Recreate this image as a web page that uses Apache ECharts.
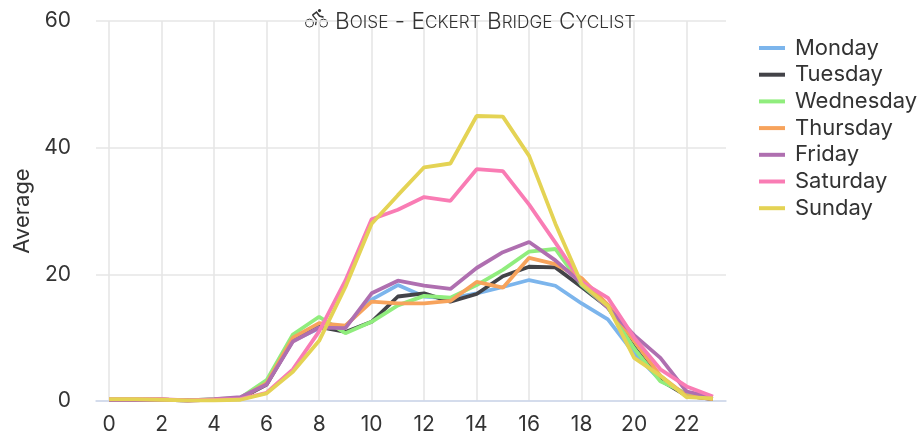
<!DOCTYPE html>
<html><head><meta charset="utf-8">
<style>html,body{margin:0;padding:0;background:#fff}#c{width:923px;height:436px}</style>
<script src="https://cdn.jsdelivr.net/npm/echarts@6/dist/echarts.min.js"></script>
</head><body><div id="c"></div>
<script>
const hours = ['0','1','2','3','4','5','6','7','8','9','10','11','12','13','14','15','16','17','18','19','20','21','22','23'];
const monday    = [0.2,0.2,0.2,0.1,0.2,0.5,2.8,9.5,11.5,11.8,16,18.3,16.5,16.2,17,18,19.1,18.2,15.4,12.9,7.5,3.3,1.0,0.3];
const tuesday   = [0.2,0.2,0.2,0.1,0.2,0.4,2.6,9.6,11.7,10.9,12.5,16.5,17,15.7,16.9,19.7,21.2,21.1,18,14.8,8.5,3.3,0.8,0.3];
const wednesday = [0.2,0.2,0.2,0.1,0.3,0.5,3.3,10.5,13.3,10.7,12.5,15.1,16.6,16.3,18.3,20.7,23.6,24,18.3,14.8,8.3,3.1,1.2,0.3];
const thursday  = [0.2,0.2,0.2,0.1,0.2,0.4,2.8,10,12.3,11.9,15.7,15.4,15.4,15.8,18.8,17.9,22.6,21.6,19.4,15.2,9.5,4,0.8,0.3];
const friday    = [0.2,0.2,0.2,0.1,0.3,0.6,2.6,9.4,11.6,11.5,17,19,18.2,17.7,21,23.5,25.1,22.2,18.6,14.7,10.4,6.8,1.5,0.6];
const saturday  = [0.3,0.3,0.3,0.1,0.2,0.3,1.3,5,11,19,28.7,30.2,32.2,31.6,36.6,36.3,31,25,18.8,16.3,10,5,2.3,0.7];
const sunday    = [0.3,0.3,0.2,0.1,0.1,0.2,1.2,4.6,9.5,18,28,32.5,36.9,37.5,45,44.9,38.7,28,18.5,15,6.8,4,0.6,0.4];
const names = ['Monday','Tuesday','Wednesday','Thursday','Friday','Saturday','Sunday'];
const values = [monday,tuesday,wednesday,thursday,friday,saturday,sunday];
const colors = ['#7cb5ec','#434348','#90ed7d','#f7a35c','#af6fb0','#f97cb4','#e4d354'];
const titleText = 'Boise - Eckert Bridge Cyclist';
const FONT = 'Inter, "Open Sans", sans-serif';
// half-hour steps spanning the band edges, used only to place the vertical grid lines on the even hours
const halfSteps = [];
for (let k = 0; k <= 48; k++) halfSteps.push(String(k));

function smallCaps(s){
  let out='';
  for(const ch of s){
    const low = ch>='a'&&ch<='z';
    out += '{'+(low?'s':'b')+'|'+(low?ch.toUpperCase():ch)+'}';
  }
  return out;
}
const chart = echarts.init(document.getElementById('c'),null,{renderer:'canvas'});
chart.setOption({
  animation:false,
  color:colors,
  textStyle:{fontFamily:FONT},
  title:{
    text:smallCaps(titleText),
    left:330, top:6,
    textStyle:{rich:{
      b:{fontFamily:FONT,fontSize:22.7,color:'#333',fontWeight:300},
      s:{fontFamily:FONT,fontSize:17.2,color:'#333',fontWeight:300}
    }}
  },
  legend:{
    orient:'vertical',left:754,top:32,
    itemWidth:26,itemHeight:4,itemGap:4.7,
    icon:'rect',
    textStyle:{fontSize:22,color:'#333',fontFamily:FONT,padding:[0,0,0,5],lineHeight:20},
    data:names
  },
  grid:{left:96,right:197,top:21,bottom:35,containLabel:false},
  xAxis:[{
    type:'category',data:hours,boundaryGap:true,
    axisLine:{lineStyle:{color:'#ccd6eb',width:1.5}},
    axisTick:{alignWithLabel:true,interval:1,length:10,lineStyle:{color:'#ccd6eb',width:1.5}},
    axisLabel:{interval:1,fontSize:21,color:'#333',margin:13},
    splitLine:{show:false}
  },{
    type:'category',data:halfSteps,boundaryGap:false,position:'bottom',
    axisLine:{show:false},axisTick:{show:false},axisLabel:{show:false},
    splitLine:{show:true,interval:(idx)=>idx%4===1,lineStyle:{color:'#e6e6e6',width:1.6}}
  }],
  yAxis:{
    type:'value',min:0,max:60,interval:20,
    name:'Average',nameLocation:'middle',nameGap:62,nameRotate:90,
    nameTextStyle:{fontSize:22,color:'#333'},
    axisLine:{show:false},axisTick:{show:false},
    axisLabel:{fontSize:21,color:'#333',margin:25},
    splitLine:{lineStyle:{color:'#e6e6e6',width:1.6}}
  },
  series:names.map((n,i)=>({
    name:n,type:'line',xAxisIndex:0,data:values[i],showSymbol:false,symbol:'none',smooth:false,
    lineStyle:{width:3.8,color:colors[i]}
  })),
  graphic:[{
    type:'group',left:303,top:9,silent:true,
    children:[
      {type:'circle',shape:{cx:5,cy:15,r:4},style:{fill:'none',stroke:'#333',lineWidth:1}},
      {type:'circle',shape:{cx:19,cy:15,r:4},style:{fill:'none',stroke:'#333',lineWidth:1}},
      {type:'circle',shape:{cx:15,cy:2.5,r:1.6},style:{fill:'#333'}},
      {type:'polyline',shape:{points:[[8,7],[12,4],[15,8],[19,9]]},style:{fill:'none',stroke:'#333',lineWidth:1.6}},
      {type:'polyline',shape:{points:[[8,7],[12,12],[11,17]]},style:{fill:'none',stroke:'#333',lineWidth:1.3}}
    ]
  }]
});
</script></body></html>
